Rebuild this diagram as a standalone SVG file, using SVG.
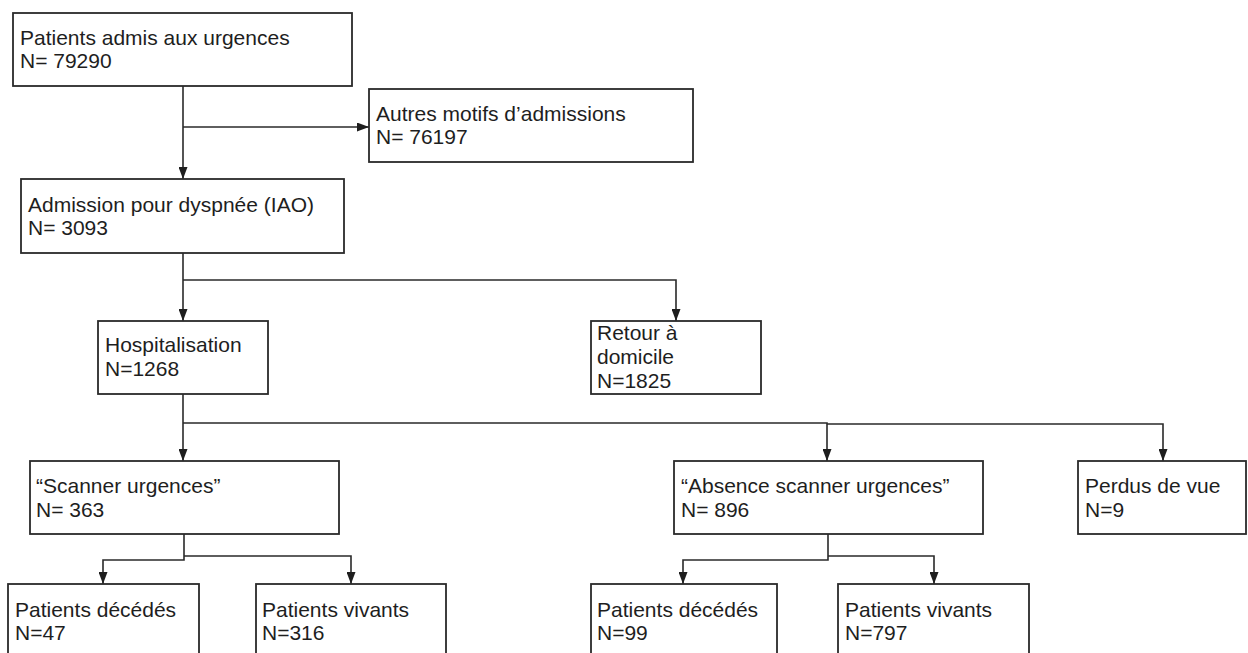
<svg xmlns="http://www.w3.org/2000/svg" width="1248" height="653" viewBox="0 0 1248 653">
<style>
.box{fill:#fff;stroke:#2a2a2a;stroke-width:1.8}
.t{font-family:"Liberation Sans",Arial,Helvetica,sans-serif;font-size:21px;fill:#1e1e1e}
.c{fill:none;stroke:#2a2a2a;stroke-width:1.6}
</style>
<defs>
<marker id="ah" markerUnits="userSpaceOnUse" viewBox="0 0 12 9" refX="12" refY="4.5" markerWidth="12" markerHeight="9" orient="auto">
<path d="M0,0 L12,4.5 L0,9 z" fill="#1e1e1e"/>
</marker>
</defs>
<rect width="1248" height="653" fill="#fff"/>
<g id="connectors">
<path class="c" d="M183,86 V179" marker-end="url(#ah)"/>
<path class="c" d="M183,127 H369" marker-end="url(#ah)"/>
<path class="c" d="M183,253 V321" marker-end="url(#ah)"/>
<path class="c" d="M183,280 H676 V321" marker-end="url(#ah)"/>
<path class="c" d="M183,394 V461" marker-end="url(#ah)"/>
<path class="c" d="M183,423 H827 V461" marker-end="url(#ah)"/>
<path class="c" d="M827,424 H1163 V461" marker-end="url(#ah)"/>
<path class="c" d="M184,534 V560 H103 V584" marker-end="url(#ah)"/>
<path class="c" d="M184,556 H351 V584" marker-end="url(#ah)"/>
<path class="c" d="M828,534 V560 H683 V584" marker-end="url(#ah)"/>
<path class="c" d="M828,556 H934 V584" marker-end="url(#ah)"/>
</g>
<g id="n-patients">
<rect class="box" x="13" y="13" width="339" height="73"/>
<text class="t" x="20" y="45">Patients admis aux urgences</text>
<text class="t" x="20" y="68">N= 79290</text>
</g>
<g id="n-autres">
<rect class="box" x="369" y="89" width="324" height="73"/>
<text class="t" x="376" y="121">Autres motifs d’admissions</text>
<text class="t" x="376" y="144">N= 76197</text>
</g>
<g id="n-dyspnee">
<rect class="box" x="21" y="179" width="323" height="74"/>
<text class="t" x="28" y="212">Admission pour dyspnée (IAO)</text>
<text class="t" x="28" y="235">N= 3093</text>
</g>
<g id="n-hosp">
<rect class="box" x="98" y="321" width="170" height="73"/>
<text class="t" x="105" y="352">Hospitalisation</text>
<text class="t" x="105" y="376">N=1268</text>
</g>
<g id="n-retour">
<rect class="box" x="591" y="321" width="170" height="73"/>
<text class="t" x="597" y="340">Retour à</text>
<text class="t" x="597" y="364">domicile</text>
<text class="t" x="597" y="388">N=1825</text>
</g>
<g id="n-scanner">
<rect class="box" x="30" y="461" width="309" height="73"/>
<text class="t" x="36" y="493">“Scanner urgences”</text>
<text class="t" x="36" y="517">N= 363</text>
</g>
<g id="n-absence">
<rect class="box" x="674" y="461" width="309" height="73"/>
<text class="t" x="681" y="493">“Absence scanner urgences”</text>
<text class="t" x="681" y="517">N= 896</text>
</g>
<g id="n-perdus">
<rect class="box" x="1078" y="461" width="168" height="73"/>
<text class="t" x="1085" y="493">Perdus de vue</text>
<text class="t" x="1085" y="517">N=9</text>
</g>
<g id="n-dec1">
<rect class="box" x="8" y="584" width="191" height="80"/>
<text class="t" x="15" y="617">Patients décédés</text>
<text class="t" x="15" y="640">N=47</text>
</g>
<g id="n-viv1">
<rect class="box" x="256" y="584" width="190" height="80"/>
<text class="t" x="262" y="617">Patients vivants</text>
<text class="t" x="262" y="640">N=316</text>
</g>
<g id="n-dec2">
<rect class="box" x="591" y="584" width="186" height="80"/>
<text class="t" x="597" y="617">Patients décédés</text>
<text class="t" x="597" y="640">N=99</text>
</g>
<g id="n-viv2">
<rect class="box" x="838" y="584" width="191" height="80"/>
<text class="t" x="845" y="617">Patients vivants</text>
<text class="t" x="845" y="640">N=797</text>
</g>
</svg>
